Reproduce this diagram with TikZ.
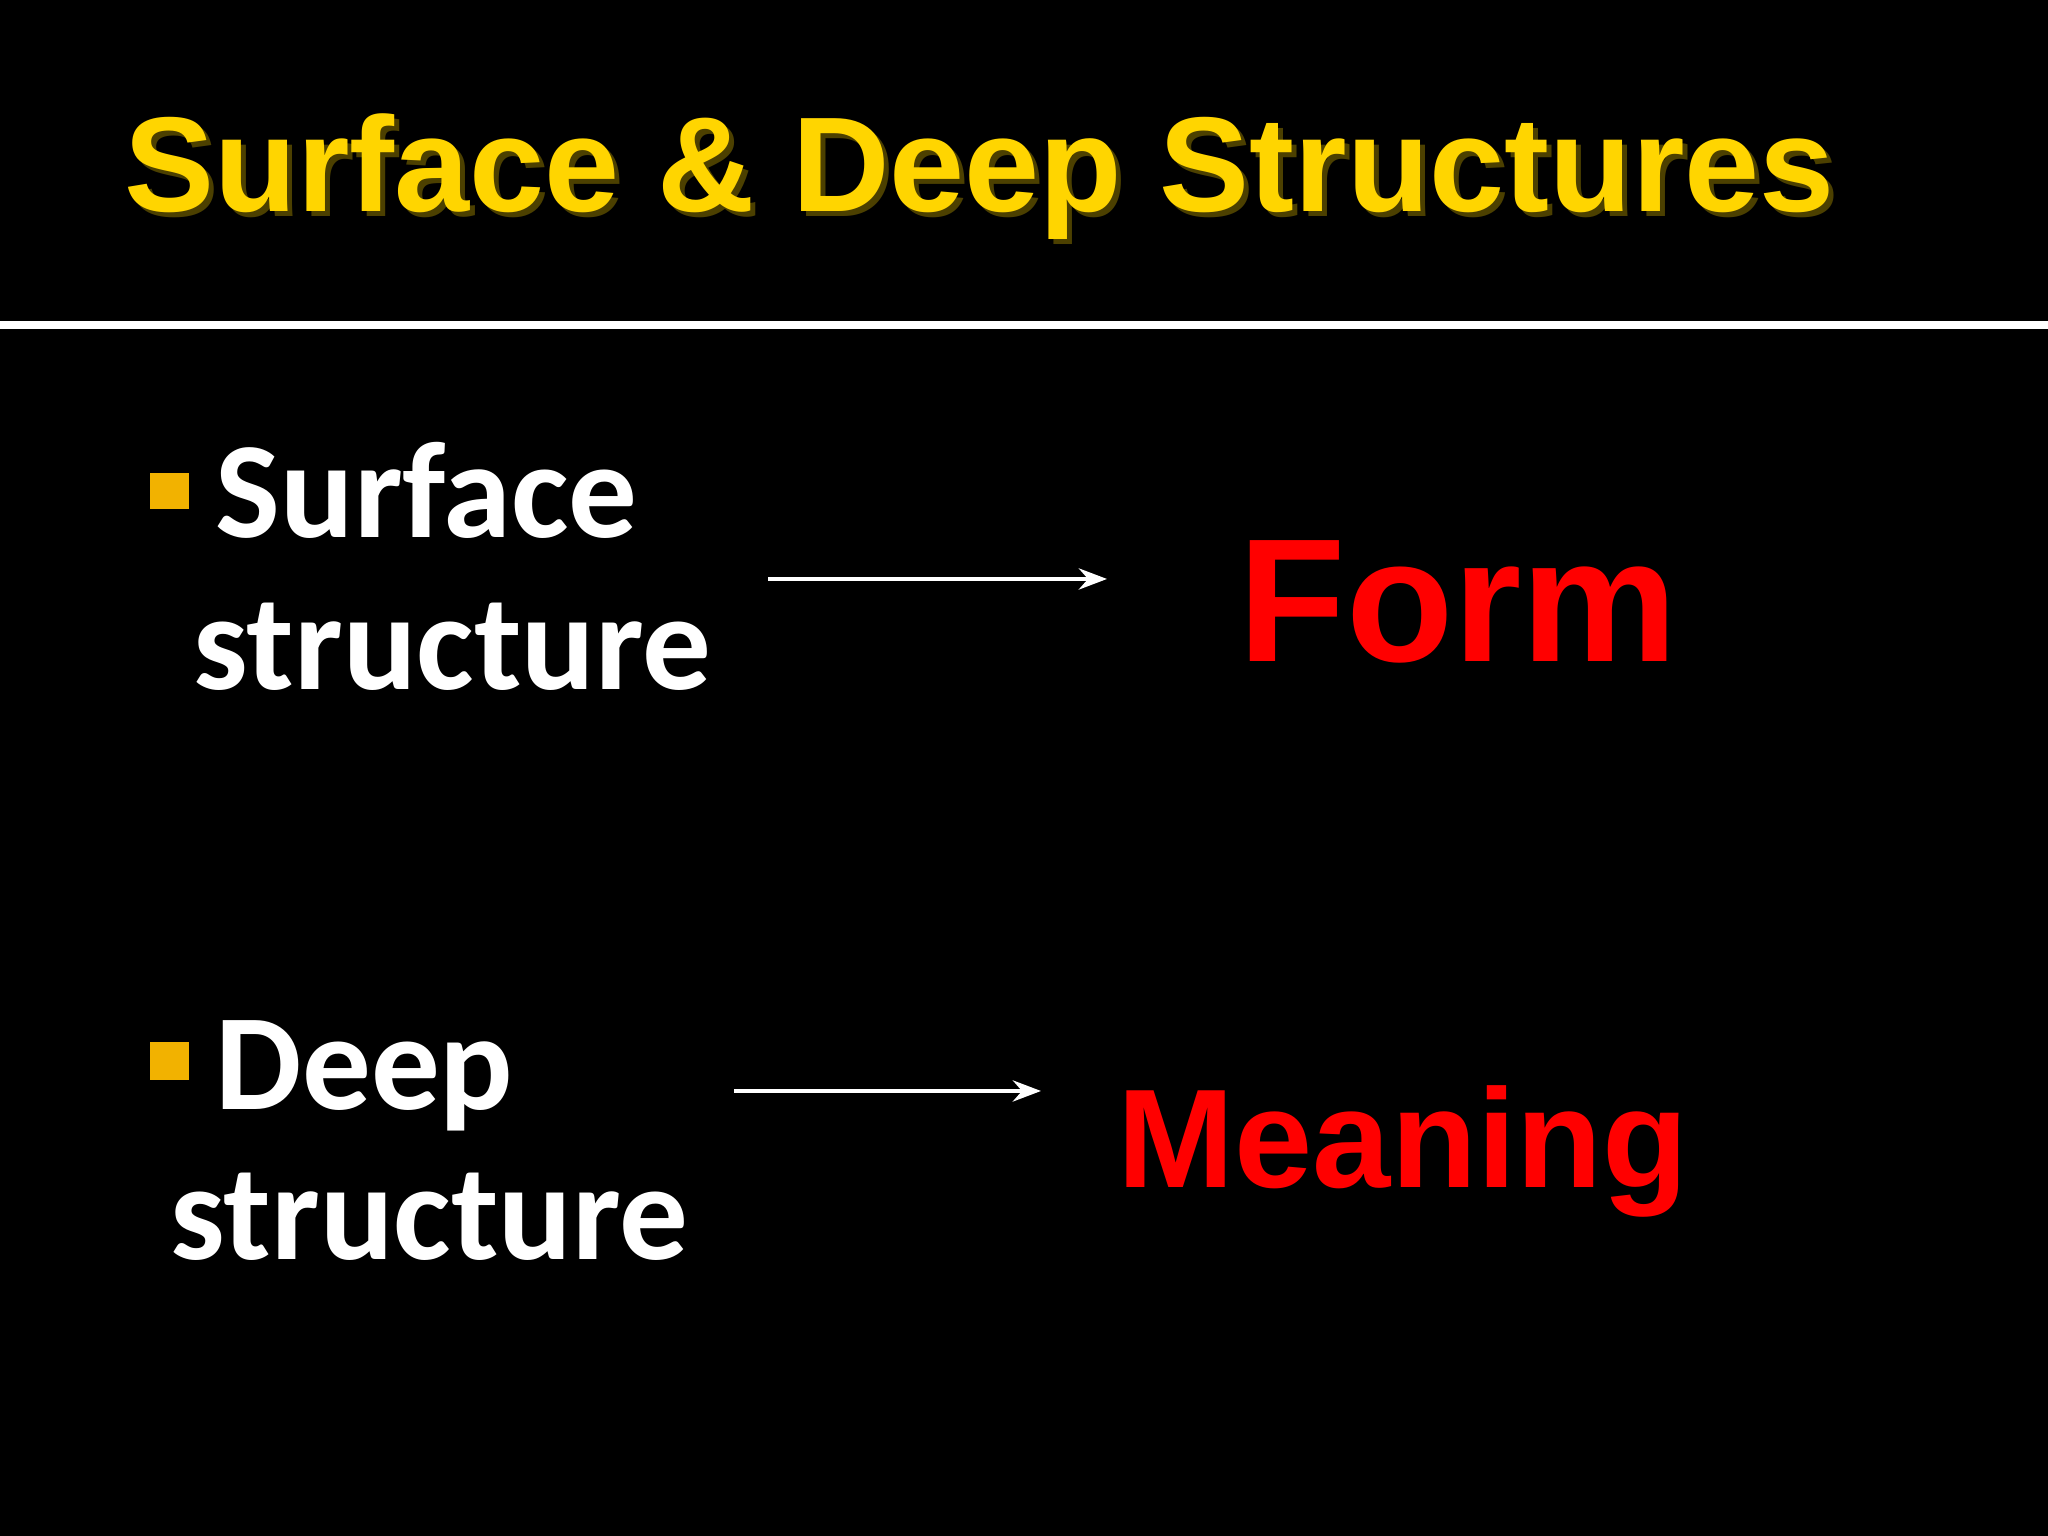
\documentclass[tikz,border=0pt]{standalone}
\usepackage{fontspec}
\setmainfont{Carlito}
\newfontfamily\arialf{Liberation Sans}
\usetikzlibrary{arrows.meta}
\definecolor{ttl}{HTML}{FFD500}
\definecolor{bul}{HTML}{F2B200}
\definecolor{redt}{HTML}{FF0000}
\tikzset{
  bodytxt/.style={anchor=base west, text=white, font=\bfseries\fontsize{39}{44}\selectfont, inner sep=0pt},
  redtxt/.style={anchor=base west, text=redt, inner sep=0pt},
  bulletbox/.style={fill=bul, draw=none},
  arr/.style={draw=white, line width=1.2pt, -{Stealth[length=8pt,width=6pt]}}
}
\begin{document}
\begin{tikzpicture}
\fill[black] (0,0) rectangle (20.48,15.36);
\useasboundingbox (0,0) rectangle (20.48,15.36);
\node[anchor=base west, inner sep=0pt, text=black!70!ttl] (ttlsh) at (1.29,13.19) {\resizebox{17.1cm}{!}{\arialf\bfseries Surface \& Deep Structures}};
\node[anchor=base west, inner sep=0pt, text=ttl] (title) at (1.24,13.24) {\resizebox{17.1cm}{!}{\arialf\bfseries Surface \& Deep Structures}};
\fill[white] (0,12.07) rectangle (20.48,12.15);
\fill[bulletbox] (1.50,10.27) rectangle (1.89,10.63);
\fill[bulletbox] (1.50,4.56) rectangle (1.89,4.94);
\node[bodytxt] (s1) at (2.15,9.98) {Surface};
\node[bodytxt] (s2) at (1.93,8.46) {structure};
\node[bodytxt] (d1) at (2.15,4.26) {Deep};
\node[bodytxt] (d2) at (1.70,2.76) {structure};
\node[redtxt, font=\arialf\bfseries\fontsize{50}{56}\selectfont] (form) at (12.38,8.74) {Form};
\node[redtxt, font=\arialf\bfseries\fontsize{40}{46}\selectfont] (meaning) at (11.17,3.48) {Meaning};
\coordinate (a1s) at (7.68,9.57);
\coordinate (a1e) at (11.07,9.57);
\coordinate (a2s) at (7.34,4.45);
\coordinate (a2e) at (10.41,4.45);
\draw[arr] (a1s) -- (a1e);
\draw[arr] (a2s) -- (a2e);
\end{tikzpicture}
\end{document}
